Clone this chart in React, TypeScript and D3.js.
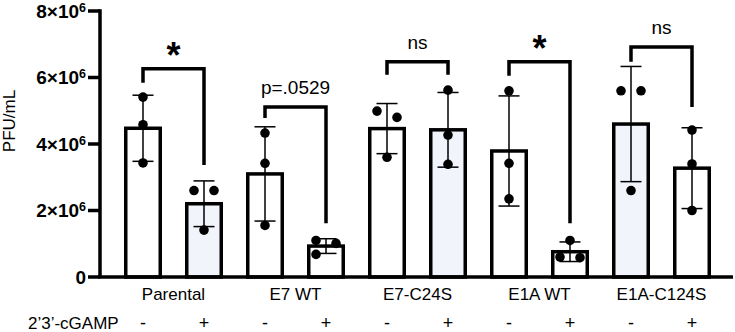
import React from "react";
import * as d3 from "d3";

// Cell lines (groups) and treatment conditions
const groups = ["Parental", "E7 WT", "E7-C24S", "E1A WT", "E1A-C124S"];
const treatments = ["-", "+"];

// Replicate titers (×10^6 PFU/mL), one array per bar, in group/treatment order
const parentalMinus = [5.41, 4.58, 3.43];
const parentalPlus = [2.6, 2.6, 1.41];
const e7wtMinus = [4.33, 3.42, 1.55];
const e7wtPlus = [1.1, 1.01, 0.68];
const e7c24sMinus = [4.99, 4.8, 3.6];
const e7c24sPlus = [5.62, 4.27, 3.39];
const e1awtMinus = [5.6, 3.42, 2.35];
const e1awtPlus = [1.1, 0.6, 0.58];
const e1ac124sMinus = [5.6, 5.6, 2.6];
const e1ac124sPlus = [4.42, 3.4, 2.0];

// Shaded bars (true = light fill)
const shaded = [false, true, false, false, false, true, false, false, true, false];

// Significance annotations per group, with bracket levels in ×10^6 PFU/mL
const sigLabels = ["*", "p=.0529", "ns", "*", "ns"];
const bracketTop = [6.26, 5.11, 6.47, 6.47, 6.92];
const bracketLeftEnd = [5.84, 4.78, 6.08, 6.05, 6.47];
const bracketRightEnd = [3.37, 1.62, 6.08, 1.62, 5.11];

// Y-axis ticks (×10^6)
const yTicks = [0, 2, 4, 6, 8];

const replicates = [
  parentalMinus, parentalPlus,
  e7wtMinus, e7wtPlus,
  e7c24sMinus, e7c24sPlus,
  e1awtMinus, e1awtPlus,
  e1ac124sMinus, e1ac124sPlus,
];

const W = 735;
const H = 332;
const FONT = "'Liberation Sans', Arial, Helvetica, sans-serif";
const SHADE = "#f2f4fc";
const LW = 3.5;

export default function App() {
  const x = d3
    .scalePoint<number>()
    .domain(d3.range(replicates.length))
    .range([112.5, 722.5])
    .padding(0.5);
  const barW = 34.5;

  const y = d3.scaleLinear().domain([0, 8]).range([277, 11]);

  const axisX = 100;
  const axisRight = 733;

  const bars = replicates.map((vals, i) => {
    const mean = d3.mean(vals) as number;
    const sd = d3.deviation(vals) as number;
    // spread overlapping replicate dots sideways
    const sorted = vals.map((v, k) => ({ v, k })).sort((a, b) => b.v - a.v);
    const clusters: { v: number; k: number }[][] = [];
    sorted.forEach((p) => {
      const last = clusters[clusters.length - 1];
      if (last && Math.abs(y(last[last.length - 1].v) - y(p.v)) < 11) last.push(p);
      else clusters.push([p]);
    });
    const dots: { cx: number; cy: number }[] = [];
    clusters.forEach((c) => {
      c.forEach((p, j) => {
        const off = c.length === 1 ? 0 : j % 2 === 0 ? -10 : 10;
        dots.push({ cx: (x(i) as number) + off, cy: y(p.v) });
      });
    });
    return { i, mean, sd, cx: x(i) as number, dots };
  });

  return (
    <svg width={W} height={H} style={{ display: "block", position: "absolute", left: 0, top: 0 }} fontFamily={FONT}>
      <rect width={W} height={H} fill="#fff" />

      {/* bars */}
      {bars.map((b) => (
        <rect
          key={`bar${b.i}`}
          x={b.cx - barW / 2}
          y={y(b.mean)}
          width={barW}
          height={y(0) - y(b.mean)}
          fill={shaded[b.i] ? SHADE : "#fff"}
          stroke="#000"
          strokeWidth={LW}
        />
      ))}

      {/* error bars (mean ± SD) */}
      {bars.map((b) => (
        <g key={`err${b.i}`} stroke="#000" strokeWidth={1.5}>
          <line x1={b.cx} x2={b.cx} y1={y(b.mean + b.sd)} y2={y(Math.max(0, b.mean - b.sd))} />
          <line x1={b.cx - 10.5} x2={b.cx + 10.5} y1={y(b.mean + b.sd)} y2={y(b.mean + b.sd)} />
          <line x1={b.cx - 10.5} x2={b.cx + 10.5} y1={y(Math.max(0, b.mean - b.sd))} y2={y(Math.max(0, b.mean - b.sd))} />
        </g>
      ))}

      {/* replicate dots */}
      {bars.map((b) =>
        b.dots.map((d, k) => <circle key={`dot${b.i}-${k}`} cx={d.cx} cy={d.cy} r={4.8} fill="#000" />)
      )}

      {/* axes */}
      <line x1={axisX} x2={axisX} y1={y(8) - LW / 2} y2={y(0)} stroke="#000" strokeWidth={LW} />
      <line x1={axisX - LW / 2} x2={axisRight} y1={y(0)} y2={y(0)} stroke="#000" strokeWidth={LW} />
      {yTicks.map((t) => (
        <g key={`yt${t}`}>
          <line x1={88} x2={axisX} y1={y(t)} y2={y(t)} stroke="#000" strokeWidth={LW} />
          <text x={86} y={y(t) + 6.5} textAnchor="end" fontWeight="bold" fontSize={19} fill="#000">
            {t === 0 ? (
              "0"
            ) : (
              <>
                <tspan>{`${t}×10`}</tspan>
                <tspan fontSize={12.5} dy={-6}>6</tspan>
              </>
            )}
          </text>
        </g>
      ))}
      <text
        transform={`translate(15,121) rotate(-90)`}
        textAnchor="middle"
        fontSize={17}
        fill="#000"
      >
        PFU/mL
      </text>

      {/* group labels */}
      {groups.map((g, gi) => {
        const cx = ((x(gi * 2) as number) + (x(gi * 2 + 1) as number)) / 2;
        return (
          <text key={`g${gi}`} x={cx} y={300} textAnchor="middle" fontSize={17} fill="#000">
            {g}
          </text>
        );
      })}

      {/* treatment row */}
      <text x={28} y={328.5} fontSize={17} fill="#000">2’3’-cGAMP</text>
      {bars.map((b) => (
        <text key={`tr${b.i}`} x={b.cx} y={328.5} textAnchor="middle" fontSize={18} fill="#000">
          {treatments[b.i % 2]}
        </text>
      ))}

      {/* significance brackets */}
      {groups.map((g, gi) => {
        const x1 = x(gi * 2) as number;
        const x2 = x(gi * 2 + 1) as number;
        const top = y(bracketTop[gi]);
        const label = sigLabels[gi];
        const isStar = label === "*";
        return (
          <g key={`sig${gi}`}>
            <path
              d={`M${x1},${y(bracketLeftEnd[gi])}V${top}H${x2}V${y(bracketRightEnd[gi])}`}
              fill="none"
              stroke="#000"
              strokeWidth={LW}
            />
            <text
              x={(x1 + x2) / 2}
              y={isStar ? top - 1 : top - 13}
              textAnchor="middle"
              fontSize={isStar ? 36 : 19}
              fontWeight={isStar ? "bold" : "normal"}
              fill="#000"
            >
              {label}
            </text>
          </g>
        );
      })}
    </svg>
  );
}
